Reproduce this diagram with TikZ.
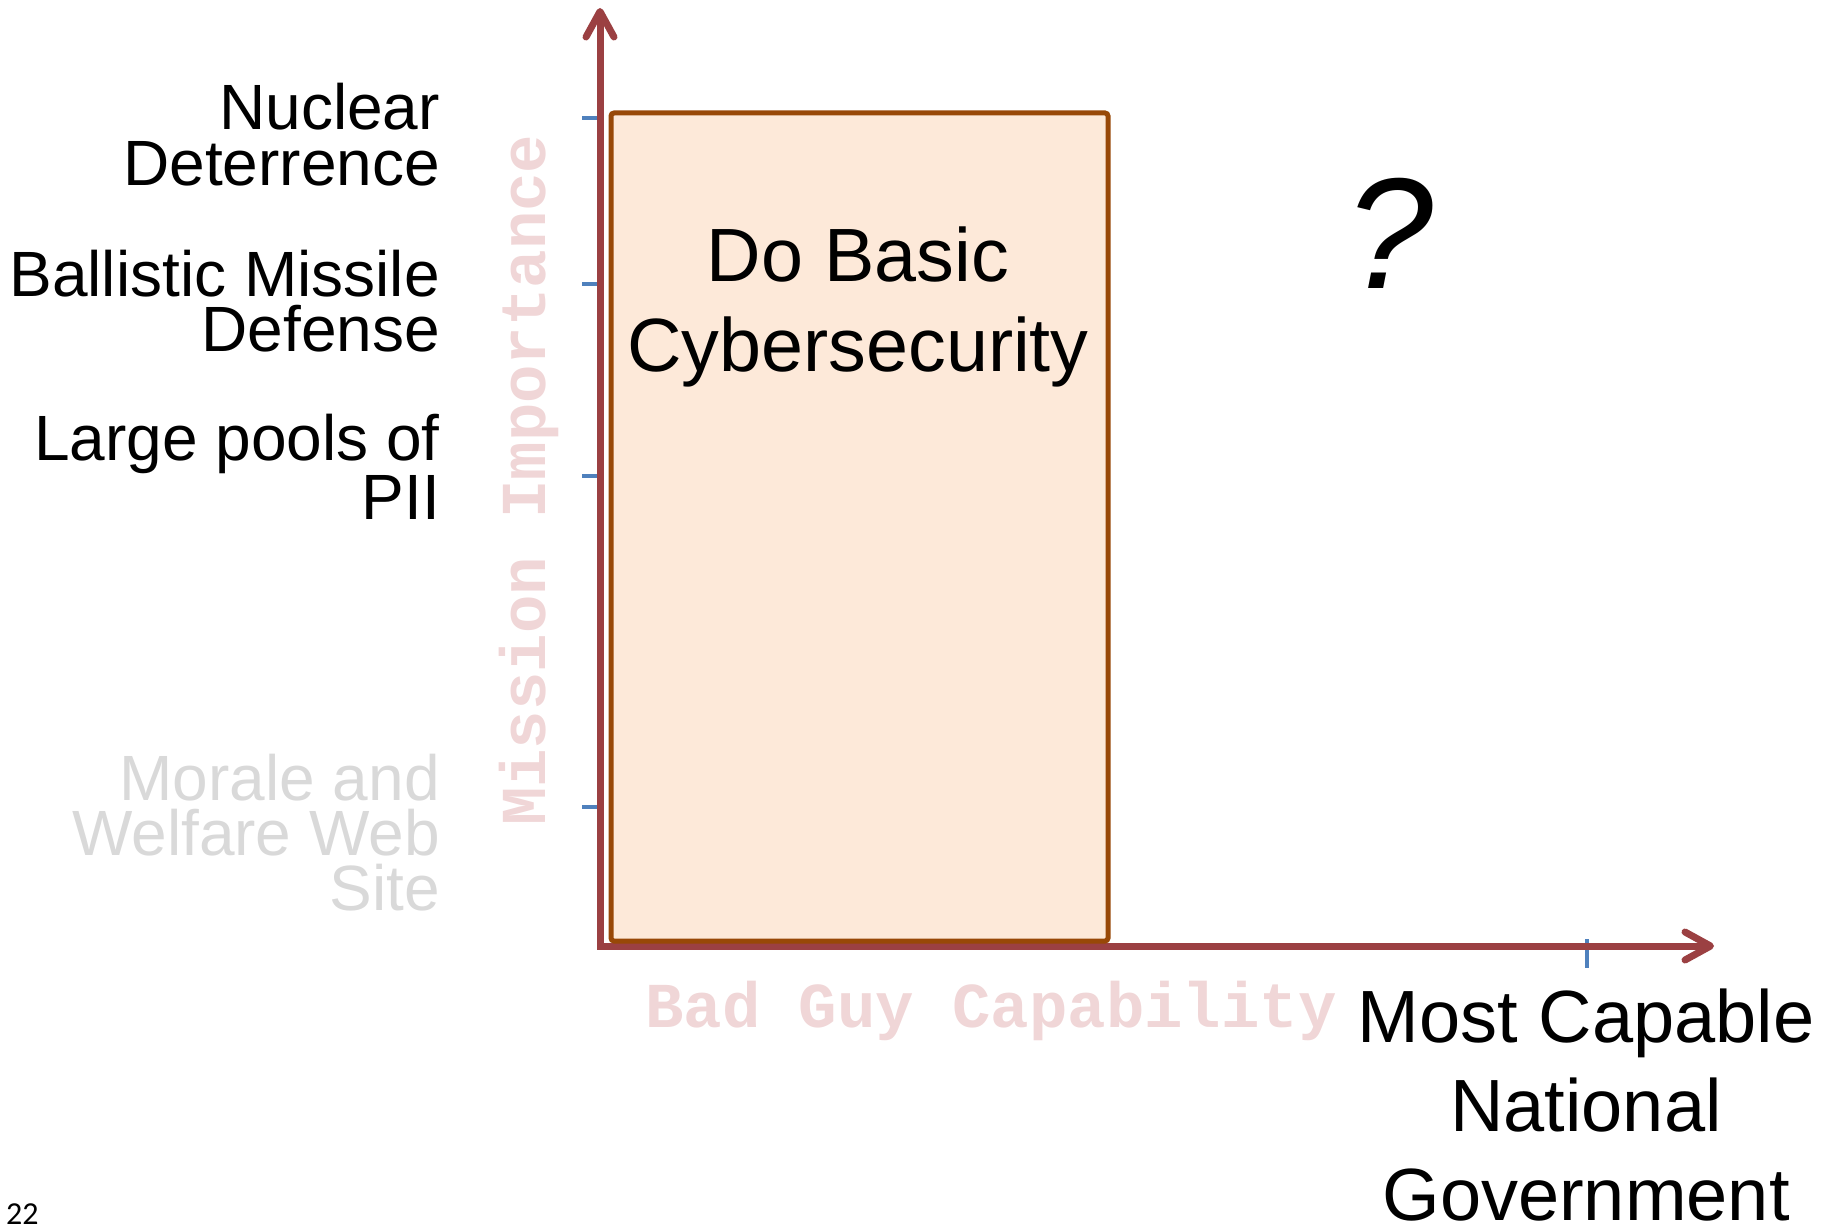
\documentclass[tikz,border=0pt]{standalone}
\usepackage{fontspec}
\setmainfont{Liberation Sans}
\newfontfamily\monofam{Liberation Mono}
\newfontfamily\carl{Carlito}
\definecolor{axisred}{RGB}{155,64,66}
\definecolor{boxbrown}{RGB}{152,72,7}
\definecolor{boxfill}{RGB}{253,233,217}
\definecolor{tickblue}{RGB}{79,129,189}
\definecolor{pinktxt}{RGB}{240,214,215}
\definecolor{greytxt}{RGB}{217,217,217}
\begin{document}
\begin{tikzpicture}[x=1pt,y=-1pt,
  axisline/.style={draw=axisred,line width=7pt,line join=miter},
  arrowhd/.style={draw=axisred,line width=7pt,line cap=round,line join=round},
  tickmark/.style={draw=tickblue,line width=4pt},
  lbl/.style={inner sep=0pt,align=right,anchor=base east,font=\fontsize{64}{55}\selectfont},
  axlabel/.style={inner sep=0pt,text=pinktxt,font=\monofam\bfseries\fontsize{64}{64}\selectfont},
]
\useasboundingbox (0,0) rectangle (1835,1228);

% ticks (under the axes)
\foreach \yy in {118,284,476,807} \draw[tickmark] (582,\yy) -- (600,\yy);
\draw[tickmark] (1587,939) -- (1587,968);

% axes
\coordinate (O) at (600,946);
\coordinate (ytip) at (600,11.5);
\coordinate (xtip) at (1710.5,946);
\draw[axisline] (ytip) -- (O) -- (xtip);
\draw[arrowhd] (586,37) -- (ytip) -- (614,37);
\draw[arrowhd] (1685,932) -- (xtip) -- (1685,960);

% box
\node[draw=boxbrown, fill=boxfill, line width=5pt, rounded corners=3pt,
      minimum width=497pt, minimum height=828pt, inner sep=0pt, anchor=north west] (box) at (608.5,110.5) {};
\node[font=\fontsize{75.5}{90}\selectfont, align=center, anchor=base, inner sep=0pt] (dbc) at (858,371) {Do Basic\\Cybersecurity};

% left labels (base anchor = last line's baseline)
\node[lbl] (nuc) at (440,185) {Nuclear\\Deterrence};
\node[lbl] (bmd) at (440,351) {Ballistic Missile\\Defense};
\node[lbl] (pii) at (440,519) {Large pools of\\PII};
\node[lbl,text=greytxt] (mwr) at (440,910) {Morale and\\Welfare Web\\Site};

% axis labels
\node[axlabel, anchor=base west] (xlab) at (645,1027) {Bad Guy Capability};
\node[axlabel, anchor=base west, rotate=90] (ylab) at (545,826) {Mission Importance};

% question mark
\node[font=\itshape\fontsize{158}{158}\selectfont, anchor=base, inner sep=0pt] (q) at (1389,288) {?};

% right label
\node[font=\fontsize{74}{89}\selectfont, align=center, anchor=base, inner sep=0pt] (mcng) at (1586,1220) {Most Capable\\National\\Government};

% page number
\node[font=\carl\fontsize{32}{32}\selectfont, anchor=base west, inner sep=0pt] (pg) at (6,1224) {22};
\end{tikzpicture}
\end{document}
